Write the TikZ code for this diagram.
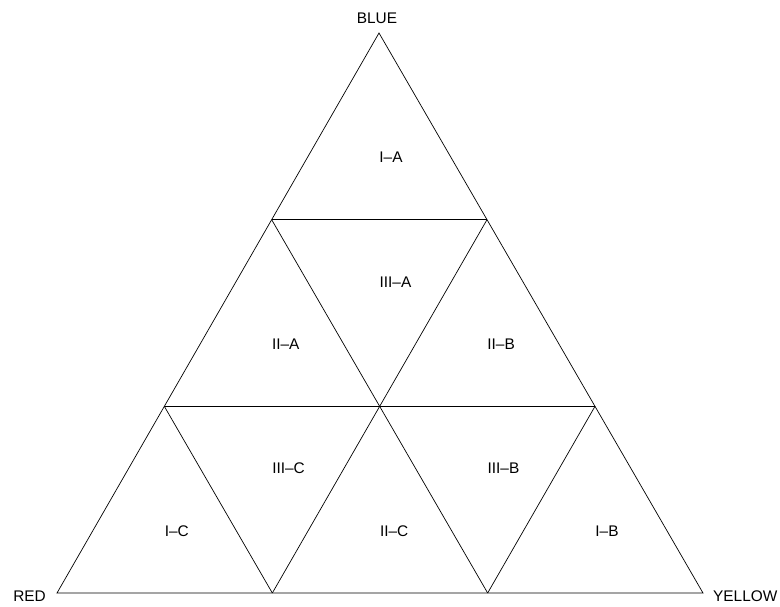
\documentclass[tikz,border=0pt]{standalone}
\usepackage{fontspec}
\setmainfont{Liberation Sans}
\usetikzlibrary{calc,positioning}

\tikzset{
  grid line/.style={line width=0.7pt},
  region/.style={font=\fontsize{15.4}{18}\selectfont, inner sep=0pt, anchor=west},
  corner/.style={font=\fontsize{15.4}{18}\selectfont, inner sep=0pt}
}

\begin{document}
\begin{tikzpicture}[x=1pt, y=-1pt]
    \useasboundingbox (0,0) rectangle (780,606);

    % Corners of the big triangle
    \coordinate (B) at (379,33);
    \coordinate (R) at (57,593);
    \coordinate (Y) at (703,593);

    % Points on the sides, at thirds
    \coordinate (rb2) at ($(R)!2/3!(B)$);
    \coordinate (rb1) at ($(R)!1/3!(B)$);
    \coordinate (yb2) at ($(Y)!2/3!(B)$);
    \coordinate (yb1) at ($(Y)!1/3!(B)$);
    \coordinate (ry1) at ($(R)!1/3!(Y)$);
    \coordinate (ry2) at ($(R)!2/3!(Y)$);
    \coordinate (mid) at ($(rb1)!1/2!(yb1)$);

    % Outer triangle
    \draw[grid line] (B) -- (R) -- (Y) -- cycle;

    % Horizontal lines
    \draw[grid line] (rb2) -- (yb2);
    \draw[grid line] (rb1) -- (yb1);

    % Slanted lines
    \draw[grid line] (rb2) -- (ry2);
    \draw[grid line] (yb2) -- (ry1);
    \draw[grid line] (rb1) -- (ry1);
    \draw[grid line] (yb1) -- (ry2);

    % Corner labels
    \node[corner, above=9pt of B, xshift=-2pt] (blue) {BLUE};
    \node[corner, left=11pt of R, yshift=-3pt] (red) {RED};
    \node[corner, right=10pt of Y, yshift=-3pt] (yellow) {YELLOW};

    % Region labels, starting at the centre of each small triangle
    \node[region] (ia)   at (barycentric cs:B=1,rb2=1,yb2=1) {I–A};
    \node[region] (iiia) at (barycentric cs:rb2=1,yb2=1,mid=1) {III–A};
    \node[region] (iia)  at (barycentric cs:rb2=1,rb1=1,mid=1) {II–A};
    \node[region] (iib)  at (barycentric cs:yb2=1,yb1=1,mid=1) {II–B};
    \node[region] (iiic) at (barycentric cs:rb1=1,mid=1,ry1=1) {III–C};
    \node[region] (iiib) at (barycentric cs:yb1=1,mid=1,ry2=1) {III–B};
    \node[region] (ic)   at (barycentric cs:R=1,rb1=1,ry1=1) {I–C};
    \node[region] (iic)  at (barycentric cs:mid=1,ry1=1,ry2=1) {II–C};
    \node[region] (ib)   at (barycentric cs:Y=1,yb1=1,ry2=1) {I–B};
\end{tikzpicture}
\end{document}
